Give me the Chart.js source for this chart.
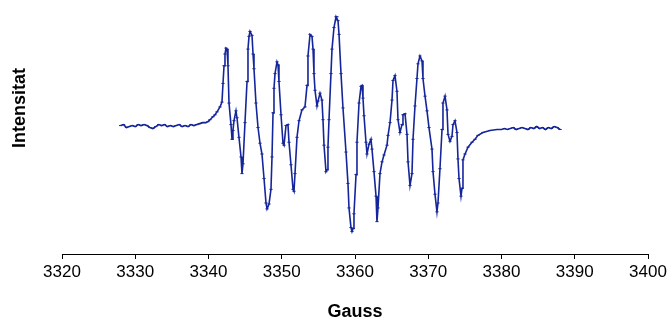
<!DOCTYPE html>
<html>
<head>
<meta charset="utf-8">
<script src="https://cdn.jsdelivr.net/npm/chart.js@4/dist/chart.umd.min.js"></script>
<style>
  html, body { margin: 0; padding: 0; background: #fff; }
  #wrap { width: 671px; height: 323px; position: relative; }
</style>
</head>
<body>
<div id="wrap"><canvas id="c" width="671" height="323"></canvas></div>
<script>
// Field values (Gauss) and intensity (arbitrary units)
const gaussLeft = [3328.0,3328.4,3328.8,3329.2,3329.6,3330.0,3330.4,3330.8,3331.2,3331.6,
  3332.0,3332.4,3332.8,3333.2,3333.6,3334.0,3334.4,3334.8,3335.2,3335.6,
  3336.0,3336.4,3336.8,3337.2,3337.6,3338.0,3338.4,3338.8,3339.2,3339.6];
const intensityLeft = [0,1,-2,-1,0,-1,1,0,1,0,
  -2,-3,-1,1,0,1,-1,0,-1,0,
  1,-1,0,-1,1,0,1,2,3,3];

const gaussPeaks = [
  3339.93,3340.20,3340.61,3340.89,3341.16,3341.57,3341.84,3341.98,3342.12,3342.25,
  3342.39,3342.53,3342.66,3342.80,3343.07,3343.21,3343.34,3343.48,3343.75,3343.89,
  3344.16,3344.44,3344.57,3344.71,3344.98,3345.26,3345.39,3345.53,3345.67,3345.94,
  3346.08,3346.21,3346.48,3346.76,3347.03,3347.30,3347.58,3347.85,3347.99,3348.26,
  3348.53,3348.67,3348.81,3348.94,3349.08,3349.35,3349.49,3349.62,3349.90,3350.17,
  3350.31,3350.58,3350.85,3350.99,3351.26,3351.54,3351.67,3351.81,3352.08,3352.36,
  3352.76,3353.17,3353.45,3353.58,3353.86,3354.13,3354.27,3354.40,3354.54,3354.81,
  3354.95,3355.22,3355.49,3355.63,3355.77,3356.04,3356.18,3356.31,3356.45,3356.72,
  3356.86,3357.13,3357.41,3357.54,3357.68,3357.82,3358.09,3358.36,3358.77,3359.04,
  3359.18,3359.45,3359.59,3359.73,3359.86,3360.14,3360.27,3360.55,3360.82,3360.96,
  3361.09,3361.23,3361.50,3361.64,3361.91,3362.18,3362.32,3362.59,3362.87,3363.00,
  3363.14,3363.41,3363.69,3363.96,3364.37,3364.51,3364.78,3365.05,3365.19,3365.46,
  3365.73,3365.87,3366.14,3366.42,3366.55,3366.83,3367.10,3367.24,3367.51,3367.78,
  3367.92,3368.19,3368.46,3368.60,3368.87,3369.15,3369.28,3369.56,3369.83,3370.10,
  3370.51,3370.65,3370.92,3371.19,3371.33,3371.60,3371.88,3372.01,3372.29,3372.56,
  3372.70,3372.97,3373.24,3373.38,3373.65,3373.92,3374.06,3374.20,3374.47,3374.61,
  3374.74,3375.02,3375.43,3375.97,3376.38,3376.79,3377.47,3378.43,3379.39];
const intensityPeaks = [
  4,6,9,11,14,19,24,43,61,73,
  79,78,61,23,1,-14,-5,5,15,8,
  -12,-32,-49,-39,3,45,78,91,96,92,
  73,58,23,-2,-18,-29,-54,-79,-85,-80,
  -65,-32,13,38,53,65,62,45,11,-18,
  -20,0,1,-17,-40,-65,-67,-49,-12,5,
  16,19,41,71,93,91,78,53,36,20,
  25,33,26,6,-20,-47,-45,-22,6,53,
  78,100,111,111,107,93,53,18,-27,-59,
  -84,-104,-108,-105,-90,-50,-17,23,40,41,
  28,10,-17,-29,-19,-14,-24,-47,-72,-98,
  -84,-49,-37,-30,-20,-10,3,26,46,51,
  35,6,-7,1,11,12,-9,-37,-61,-49,
  -14,20,48,63,71,66,48,30,15,-2,
  -24,-47,-70,-88,-79,-44,-4,23,30,16,
  -9,-16,-11,1,5,-7,-34,-54,-72,-64,
  -35,-29,-22,-17,-14,-10,-7,-5,-4];

const gaussRight = [3380.0,3380.4,3380.8,3381.2,3381.6,3382.0,3382.4,3382.8,3383.2,3383.6,
  3384.0,3384.4,3384.8,3385.2,3385.6,3386.0,3386.4,3386.8,3387.2,3387.6,3388.0];
const intensityRight = [-4,-3,-4,-3,-2,-4,-3,-2,-3,-4,
  -2,-3,-1,-3,-2,-4,-2,-3,-1,-2,-4];

const xTicks = [3320,3330,3340,3350,3360,3370,3380,3390,3400];
const xTitle = 'Gauss';
const yTitle = 'Intensitat';

const gauss = gaussLeft.concat(gaussPeaks, gaussRight);
const intensity = intensityLeft.concat(intensityPeaks, intensityRight);
const points = gauss.map((g, i) => ({ x: g, y: intensity[i] }));

const lineColor = '#15259a';

// Raise the y-axis title's centre (Excel centres it on a taller band)
const yTitleShift = {
  id: 'yTitleShift',
  afterLayout(chart) { chart.scales.y.top = -38; }
};

new Chart(document.getElementById('c'), {
  type: 'line',
  data: {
    datasets: [{
      data: points,
      borderColor: lineColor,
      backgroundColor: lineColor,
      borderWidth: 1.6,
      tension: 0,
      pointStyle: 'line',
      pointRadius: 1.6,
      pointBorderWidth: 1,
      pointBorderColor: lineColor,
      fill: false
    }]
  },
  plugins: [yTitleShift],
  options: {
    responsive: false,
    animation: false,
    devicePixelRatio: 1,
    layout: { padding: { left: 9, right: 23, top: 0, bottom: 0 } },
    plugins: { legend: { display: false }, tooltip: { enabled: false } },
    scales: {
      x: {
        type: 'linear',
        min: xTicks[0],
        max: xTicks[xTicks.length - 1],
        afterBuildTicks: (s) => { s.ticks = xTicks.map(v => ({ value: v })); },
        afterFit: (s) => { s.height = 69; },
        grid: { drawOnChartArea: false, drawTicks: true, tickLength: 5, color: '#000', lineWidth: 1 },
        border: { display: true, color: '#000', width: 1 },
        ticks: {
          color: '#000',
          padding: 3,
          maxRotation: 0,
          autoSkip: false,
          font: { family: 'Liberation Sans, Arial, sans-serif', size: 17 },
          callback: (v) => String(v)
        },
        title: {
          display: true,
          text: xTitle,
          color: '#000',
          font: { family: 'Liberation Sans, Arial, sans-serif', size: 18, weight: 'bold' },
          padding: { top: 0, bottom: 0 }
        }
      },
      y: {
        min: -131,
        max: 123,
        afterFit: (s) => { s.width = 53; },
        grid: { display: false },
        border: { display: false },
        ticks: { display: false },
        title: {
          display: true,
          text: yTitle,
          color: '#000',
          font: { family: 'Liberation Sans, Arial, sans-serif', size: 18, weight: 'bold' },
          padding: { top: 0, bottom: 0 }
        }
      }
    }
  }
});
</script>
</body>
</html>
